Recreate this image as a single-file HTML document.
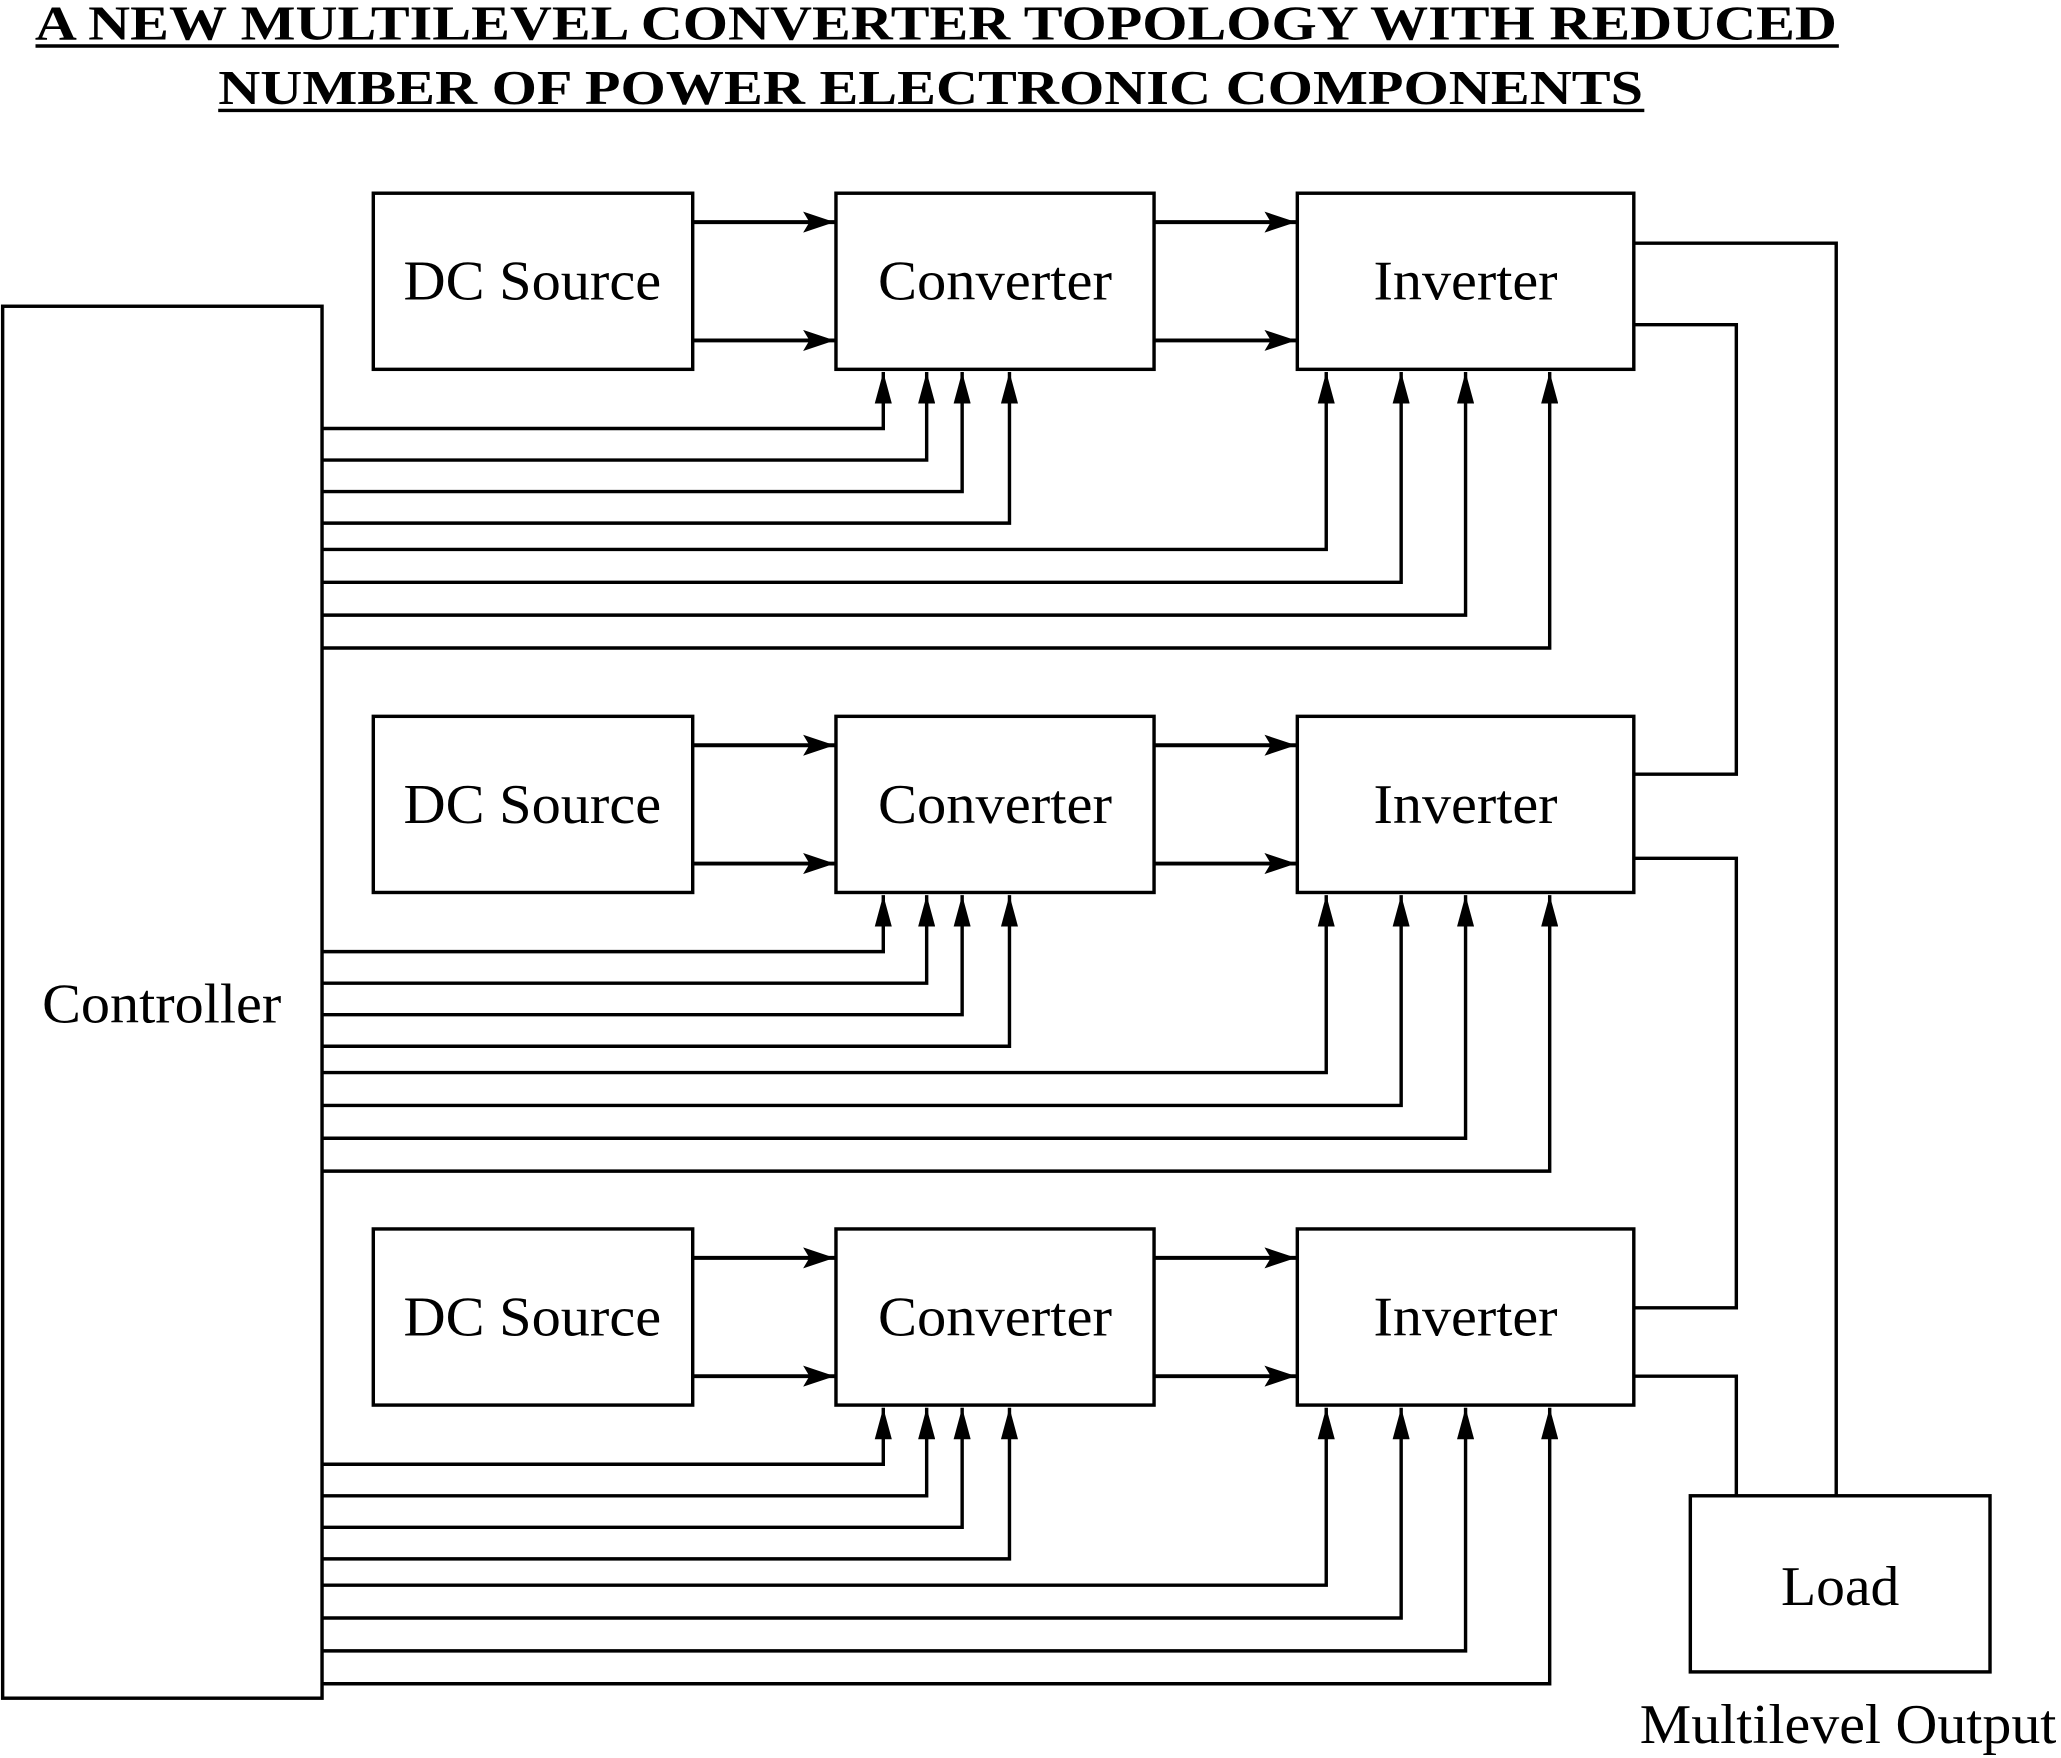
<!DOCTYPE html>
<html><head><meta charset="utf-8"><style>html,body{margin:0;padding:0;background:#fff}svg{display:block}</style></head>
<body>
<svg width="2061" height="1758" viewBox="0 0 1568 1337.5" xmlns="http://www.w3.org/2000/svg" font-family="Liberation Serif, serif">
<defs>
<marker id="a" viewBox="0 0 10 10" refX="10" refY="5" markerWidth="24" markerHeight="16" markerUnits="userSpaceOnUse" orient="auto" preserveAspectRatio="none">
<path d="M0,0 L10,5 L0,10 L2,5 z" fill="#000"/></marker>
<marker id="u" viewBox="0 0 10 10" refX="10" refY="5" markerWidth="24" markerHeight="13" markerUnits="userSpaceOnUse" orient="auto" preserveAspectRatio="none">
<path d="M0,0 L10,5 L0,10 z" fill="#000"/></marker>
</defs>
<g font-weight="bold" font-size="37" text-anchor="middle">
<text x="712" y="30" textLength="1371" lengthAdjust="spacingAndGlyphs">A NEW MULTILEVEL CONVERTER TOPOLOGY WITH REDUCED</text>
<text x="708" y="79" textLength="1084" lengthAdjust="spacingAndGlyphs">NUMBER OF POWER ELECTRONIC COMPONENTS</text>
</g>
<g stroke="#000" stroke-width="2.6">
<line x1="27" y1="35" x2="1399" y2="35"/>
<line x1="166" y1="84" x2="1251" y2="84"/>
</g>
<g fill="none" stroke="#000" stroke-width="2.6">
<rect x="2" y="233" width="243" height="1059" fill="#fff"/>
<rect x="1286" y="1138" width="228" height="134"/>
</g>
<g font-size="43" text-anchor="middle" lengthAdjust="spacingAndGlyphs">
<text x="123" y="778" textLength="182" lengthAdjust="spacingAndGlyphs">Controller</text>
<text x="1400" y="1221" textLength="90" lengthAdjust="spacingAndGlyphs">Load</text>
<text x="1406" y="1326" textLength="317" lengthAdjust="spacingAndGlyphs">Multilevel Output</text>
</g>

<g id="row">
<g fill="none" stroke="#000" stroke-width="2.6">
<rect x="284" y="147" width="243" height="134"/>
<rect x="636" y="147" width="242" height="134"/>
<rect x="987" y="147" width="256" height="134"/>
</g>
<g fill="none" stroke="#000" stroke-width="3" marker-end="url(#a)">
<line x1="527" y1="169" x2="635" y2="169"/>
<line x1="527" y1="259" x2="635" y2="259"/>
<line x1="878" y1="169" x2="986" y2="169"/>
<line x1="878" y1="259" x2="986" y2="259"/>
</g>
<g fill="none" stroke="#000" stroke-width="2.6" marker-end="url(#u)">
<polyline points="245,326 672,326 672,283"/>
<polyline points="245,350 705,350 705,283"/>
<polyline points="245,374 732,374 732,283"/>
<polyline points="245,398 768,398 768,283"/>
<polyline points="245,418 1009,418 1009,283"/>
<polyline points="245,443 1066,443 1066,283"/>
<polyline points="245,468 1115,468 1115,283"/>
<polyline points="245,493 1179,493 1179,283"/>
</g>
<g font-size="43" text-anchor="middle">
<text x="405" y="228" textLength="196" lengthAdjust="spacingAndGlyphs">DC Source</text>
<text x="757" y="228" textLength="178" lengthAdjust="spacingAndGlyphs">Converter</text>
<text x="1115" y="228" textLength="140" lengthAdjust="spacingAndGlyphs">Inverter</text>
</g>
</g>
<use href="#row" y="398"/>
<use href="#row" y="788"/>

<g fill="none" stroke="#000" stroke-width="2.6">
<polyline points="1243,185 1397,185 1397,1138"/>
<polyline points="1243,247 1321,247 1321,589 1243,589"/>
<polyline points="1243,653 1321,653 1321,995 1243,995"/>
<polyline points="1243,1047 1321,1047 1321,1138"/>
</g>
</svg>
</body></html>
